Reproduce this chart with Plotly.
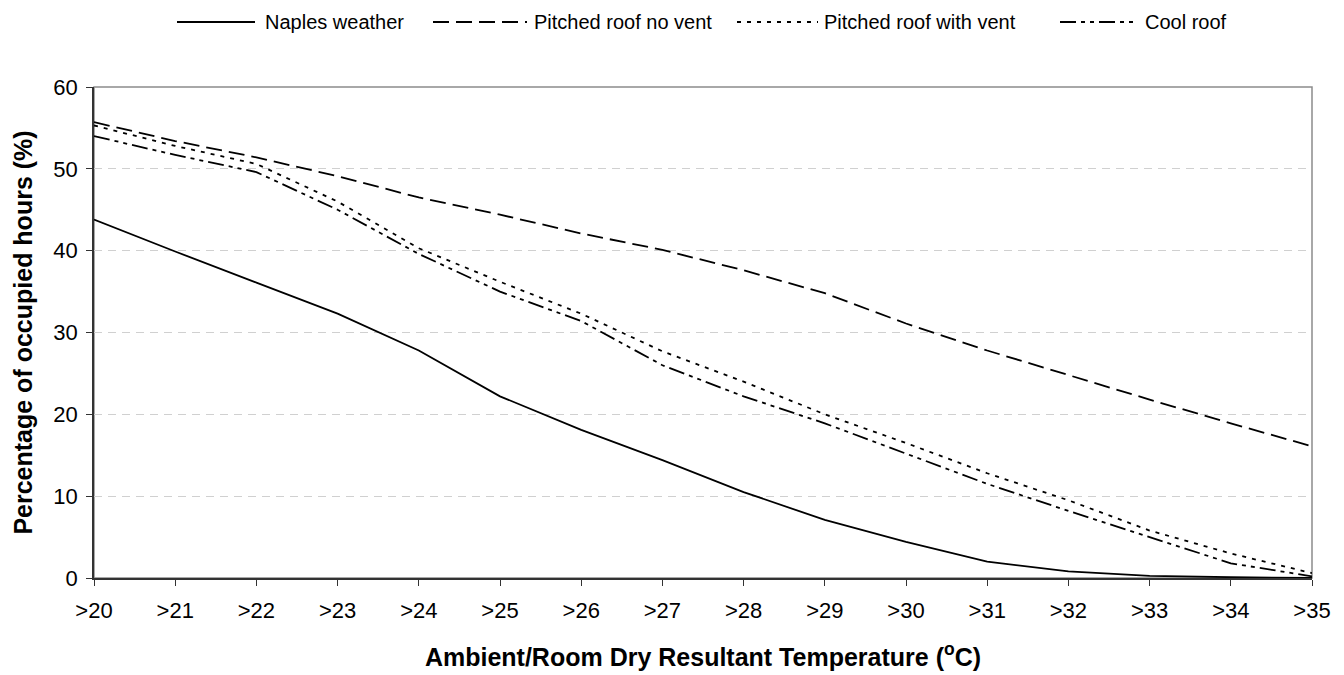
import plotly.graph_objects as go

categories = [">20", ">21", ">22", ">23", ">24", ">25", ">26", ">27",
              ">28", ">29", ">30", ">31", ">32", ">33", ">34", ">35"]

naples_weather = [43.8, 39.9, 36.1, 32.3, 27.8, 22.2, 18.1, 14.4,
                  10.5, 7.1, 4.4, 2.0, 0.8, 0.25, 0.1, 0.0]
pitched_no_vent = [55.7, 53.4, 51.4, 49.1, 46.5, 44.4, 42.1, 40.1,
                   37.6, 34.8, 31.1, 27.8, 24.8, 21.8, 18.9, 16.1]
pitched_with_vent = [55.3, 52.8, 50.6, 46.0, 40.3, 36.2, 32.3, 27.7,
                     24.0, 20.0, 16.5, 12.8, 9.5, 5.8, 3.0, 0.6]
cool_roof = [54.0, 51.7, 49.6, 45.0, 39.6, 35.0, 31.4, 26.0,
             22.2, 18.9, 15.2, 11.5, 8.2, 5.0, 1.8, 0.2]

series_names = ["Naples weather", "Pitched roof no vent",
                "Pitched roof with vent", "Cool roof"]
series_values = [naples_weather, pitched_no_vent, pitched_with_vent, cool_roof]
series_dash = ["solid", "16px,7px", "4px,6px", "16px,5px,4px,5px,4px,5px"]

FONT = "Liberation Sans, Arial, sans-serif"
W, H = 1344, 675
ML, MR, MT, MB = 94, 32, 87, 97
PW, PH = W - ML - MR, H - MT - MB


def px_x(x):
    return (x - ML) / PW


def px_y(y):
    return (H - MB - y) / PH


fig = go.Figure()
for name, vals, dash in zip(series_names, series_values, series_dash):
    fig.add_trace(go.Scatter(
        x=categories, y=vals, mode="lines", name=name,
        line=dict(color="black", width=1.8, dash=dash),
    ))

# legend drawn as line samples + text along the top
legend_lines = [(177, 255), (433, 527), (737, 818), (1060, 1138)]
legend_text_x = [263, 532, 822, 1143]
legend_y = 22
shapes = [dict(type="rect", xref="paper", yref="paper", x0=0, x1=1, y0=0, y1=1,
               line=dict(color="#8c8c8c", width=1.5), layer="below")]
annotations = []
for (x0, x1), tx, name, dash in zip(legend_lines, legend_text_x, series_names, series_dash):
    shapes.append(dict(type="line", xref="paper", yref="paper",
                       x0=px_x(x0), x1=px_x(x1), y0=px_y(legend_y), y1=px_y(legend_y),
                       line=dict(color="black", width=1.8, dash=dash)))
    annotations.append(dict(text=name, xref="paper", yref="paper",
                            x=px_x(tx), y=px_y(legend_y), xanchor="left", yanchor="middle",
                            showarrow=False, font=dict(family=FONT, size=20, color="black")))

fig.update_layout(
    width=W, height=H,
    margin=dict(l=ML, r=MR, t=MT, b=MB, autoexpand=False),
    paper_bgcolor="white", plot_bgcolor="white",
    font=dict(family=FONT, size=20, color="black"),
    showlegend=False,
    shapes=shapes,
    annotations=annotations,
)

fig.update_xaxes(
    type="category", range=[0, 15], automargin=False,
    showline=True, linecolor="#333333", linewidth=1.5,
    ticks="outside", ticklen=6, tickcolor="#333333", tickwidth=1,
    tickfont=dict(family=FONT, size=22), ticklabelstandoff=6,
    showgrid=False, zeroline=False,
    title=dict(text="<b>Ambient/Room Dry Resultant Temperature (<sup>o</sup>C)</b>",
               font=dict(family=FONT, size=25), standoff=26),
)
fig.update_yaxes(
    range=[0, 60], dtick=10, automargin=False,
    showline=True, linecolor="#333333", linewidth=1.5,
    ticks="outside", ticklen=6, tickcolor="#333333", tickwidth=1,
    tickfont=dict(family=FONT, size=22), ticklabelstandoff=4,
    showgrid=True, gridcolor="#d0d0d0", griddash="8px,6px", gridwidth=1,
    zeroline=False,
    title=dict(text="<b>Percentage of occupied hours (%)</b>",
               font=dict(family=FONT, size=25), standoff=14),
)

fig.write_html("out.html")
